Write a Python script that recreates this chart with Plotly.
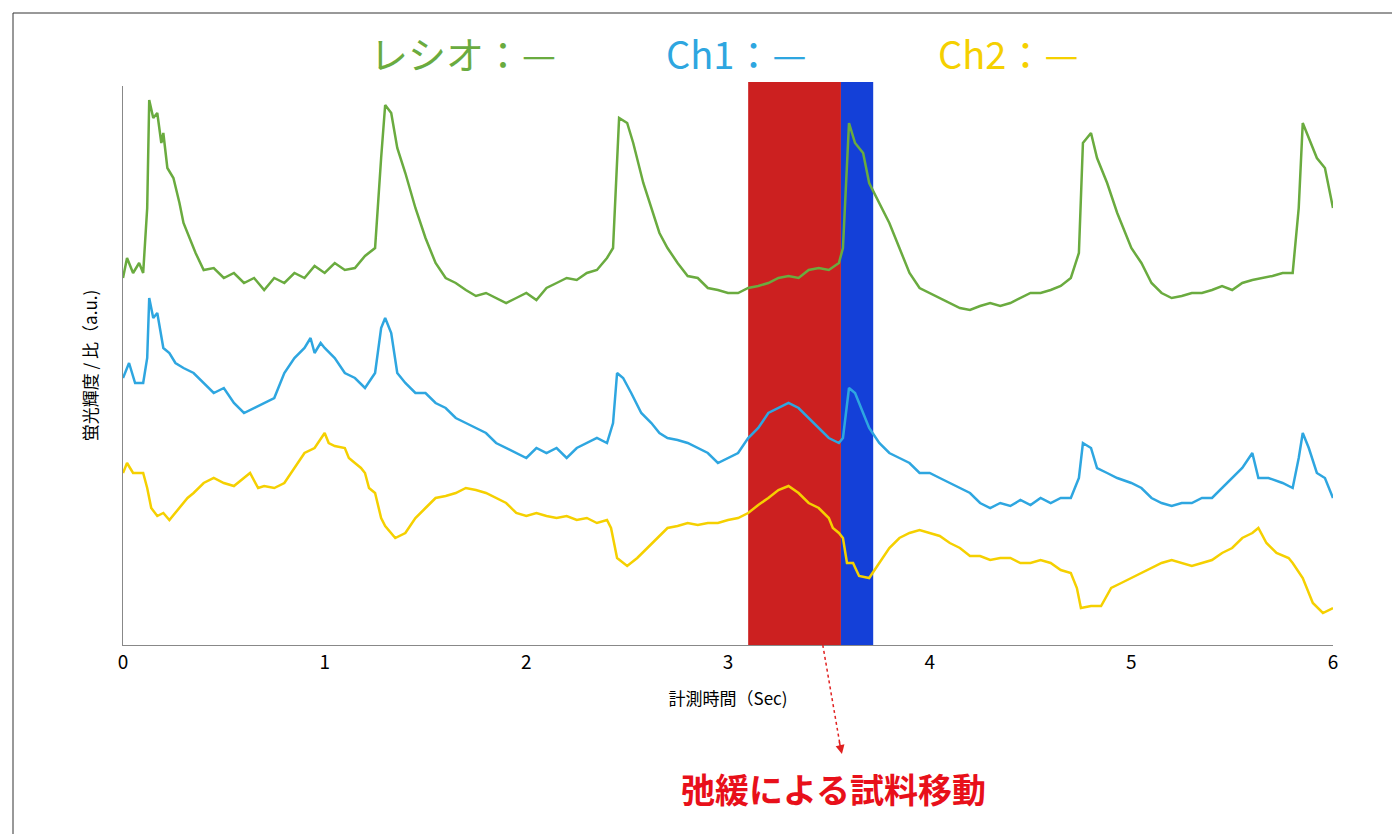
import plotly.graph_objects as go

# readings taken as pixel heights from the picture (baseline at 637 px); converted to signal below
t_ratio = [0,0.02,0.05,0.08,0.1,0.12,0.13,0.15,0.17,0.19,0.2,0.22,0.25,0.28,0.3,0.33,0.36,0.4,0.45,0.5,0.55,0.6,0.65,0.7,0.75,0.8,0.85,0.9,0.95,1.0,1.05,1.1,1.15,1.2,1.25,1.28,1.3,1.33,1.36,1.4,1.45,1.5,1.55,1.6,1.65,1.7,1.75,1.8,1.85,1.9,1.95,2.0,2.05,2.1,2.15,2.2,2.25,2.3,2.35,2.4,2.43,2.45,2.46,2.5,2.53,2.58,2.62,2.66,2.7,2.75,2.8,2.85,2.9,2.95,3.0,3.05,3.1,3.15,3.2,3.25,3.3,3.35,3.4,3.45,3.5,3.55,3.57,3.6,3.63,3.67,3.7,3.75,3.8,3.85,3.9,3.95,4.0,4.05,4.1,4.15,4.2,4.25,4.3,4.35,4.4,4.45,4.5,4.55,4.6,4.65,4.7,4.74,4.76,4.8,4.83,4.88,4.93,5.0,5.05,5.1,5.15,5.2,5.25,5.3,5.35,5.4,5.45,5.5,5.55,5.6,5.65,5.7,5.75,5.8,5.83,5.85,5.88,5.92,5.96,6.0]
px_ratio = [270,250,265,255,265,200,92,110,105,135,125,160,170,195,215,230,245,262,260,270,265,275,270,282,270,275,265,270,258,265,255,262,260,248,240,150,97,105,140,165,200,230,255,270,275,282,288,285,290,295,290,285,292,280,275,270,272,265,262,250,240,150,110,115,135,175,200,225,240,255,268,270,280,282,285,285,280,278,275,270,268,270,262,260,262,255,240,115,135,145,175,195,215,240,265,280,285,290,295,300,302,298,295,298,295,290,285,285,282,278,270,245,135,125,150,175,205,240,255,275,285,290,288,285,285,282,278,282,275,272,270,268,265,265,200,115,130,150,160,200]

t_ch1 = [0,0.03,0.06,0.1,0.12,0.13,0.15,0.17,0.2,0.23,0.26,0.3,0.35,0.4,0.45,0.5,0.55,0.6,0.65,0.7,0.75,0.8,0.85,0.9,0.93,0.95,0.98,1.0,1.05,1.1,1.15,1.2,1.25,1.28,1.3,1.33,1.36,1.4,1.45,1.5,1.55,1.6,1.65,1.7,1.75,1.8,1.85,1.9,1.95,2.0,2.05,2.1,2.15,2.2,2.25,2.3,2.35,2.4,2.43,2.45,2.48,2.52,2.57,2.62,2.66,2.7,2.75,2.8,2.85,2.9,2.95,3.0,3.05,3.1,3.15,3.2,3.25,3.3,3.35,3.4,3.45,3.5,3.55,3.57,3.6,3.63,3.67,3.7,3.75,3.8,3.85,3.9,3.95,4.0,4.05,4.1,4.15,4.2,4.25,4.3,4.35,4.4,4.45,4.5,4.55,4.6,4.65,4.7,4.74,4.76,4.8,4.83,4.88,4.93,5.0,5.05,5.1,5.15,5.2,5.25,5.3,5.35,5.4,5.45,5.5,5.55,5.6,5.63,5.68,5.75,5.8,5.83,5.85,5.88,5.92,5.96,6.0]
px_ch1 = [370,355,375,375,350,290,310,305,340,345,355,360,365,375,385,380,395,405,400,395,390,365,350,340,330,345,335,340,350,365,370,380,365,320,310,325,365,375,385,385,395,400,410,415,420,425,435,440,445,450,440,445,440,450,440,435,430,435,415,365,370,385,405,415,425,430,432,435,440,445,455,450,445,430,420,405,400,395,400,410,420,430,435,430,380,385,405,420,435,445,450,455,465,465,470,475,480,485,495,500,495,498,492,497,490,495,490,490,470,435,440,460,465,470,475,480,490,495,498,495,495,490,490,480,470,460,445,470,470,475,480,450,425,440,465,470,490]

t_ch2 = [0,0.02,0.05,0.1,0.12,0.14,0.17,0.2,0.23,0.28,0.32,0.35,0.4,0.45,0.5,0.55,0.6,0.63,0.67,0.7,0.75,0.8,0.85,0.9,0.95,1.0,1.02,1.05,1.1,1.12,1.15,1.18,1.2,1.22,1.25,1.28,1.3,1.35,1.4,1.45,1.5,1.55,1.6,1.65,1.7,1.75,1.8,1.85,1.9,1.95,2.0,2.05,2.1,2.15,2.2,2.25,2.3,2.35,2.4,2.42,2.45,2.5,2.55,2.6,2.65,2.7,2.75,2.8,2.85,2.9,2.95,3.0,3.05,3.1,3.15,3.2,3.25,3.3,3.35,3.4,3.45,3.5,3.52,3.55,3.57,3.59,3.62,3.65,3.7,3.75,3.8,3.85,3.9,3.95,4.0,4.05,4.1,4.15,4.2,4.25,4.3,4.35,4.4,4.45,4.5,4.55,4.6,4.65,4.7,4.73,4.75,4.8,4.85,4.9,4.95,5.0,5.05,5.1,5.15,5.2,5.25,5.3,5.35,5.4,5.45,5.5,5.55,5.6,5.63,5.67,5.72,5.78,5.8,5.85,5.9,5.95,6.0]
px_ch2 = [465,455,465,465,480,500,508,505,512,500,490,485,475,470,475,478,470,465,480,478,480,475,460,445,440,425,435,438,440,450,455,460,465,480,485,510,518,530,525,510,500,490,488,485,480,482,485,490,495,505,508,505,508,510,508,512,510,515,512,520,550,558,550,540,530,520,518,515,517,515,515,512,510,505,497,490,482,478,485,495,500,510,520,525,530,555,555,568,570,555,540,530,525,522,525,528,535,540,548,548,552,550,550,555,555,552,555,562,565,580,600,598,598,580,575,570,565,560,555,552,555,558,555,552,545,540,530,525,520,535,545,550,555,570,595,605,600]

x_ticks = [0, 1, 2, 3, 4, 5, 6]
BASE = 637
y_ratio = [BASE - p for p in px_ratio]
y_ch1 = [BASE - p for p in px_ch1]
y_ch2 = [BASE - p for p in px_ch2]

GREEN, BLUE, YELLOW = "#6aab3f", "#2ea6e0", "#f5d000"
FONT = "Noto Sans CJK JP"

fig = go.Figure()
fig.add_vrect(x0=3.1, x1=3.56, y0=0, y1=1.007, fillcolor="#cc2020", line_width=0, layer="below", opacity=1)
fig.add_vrect(x0=3.56, x1=3.72, y0=0, y1=1.007, fillcolor="#1440d8", line_width=0, layer="below", opacity=1)
for t, y, c in [(t_ratio, y_ratio, GREEN), (t_ch1, y_ch1, BLUE), (t_ch2, y_ch2, YELLOW)]:
    fig.add_trace(go.Scatter(x=t, y=y, mode="lines", line=dict(color=c, width=2.5), showlegend=False))

W, H = 1210, 559
def px(xp): return (xp - 115) / W
def py(yp): return (637 - yp) / H

fig.add_shape(type="rect", xref="paper", yref="paper", x0=px(5), x1=px(1393), y0=py(830), y1=py(5),
              line=dict(color="#333", width=1))
fig.add_shape(type="line", xref="x", yref="paper", x0=3.47, y0=0, x1=3.56, y1=py(742),
              line=dict(color="#e02020", width=1.5, dash="dot"))
fig.add_annotation(x=3.565, y=py(746), xref="x", yref="paper", ax=-3, ay=-14, showarrow=True,
                   arrowhead=2, arrowsize=1.2, arrowwidth=1.5, arrowcolor="#e02020", text="")
fig.add_annotation(x=px(825), y=py(780), xref="paper", yref="paper", showarrow=False,
                   xanchor="center", yanchor="middle",
                   text="<b>弛緩による試料移動</b>", font=dict(size=34, color="#e8101a", family=FONT))
for xc, txt, c in [(455, "レシオ：—", GREEN), (728, "Ch1：—", BLUE), (1000, "Ch2：—", YELLOW)]:
    fig.add_annotation(x=px(xc), y=py(45), xref="paper", yref="paper", showarrow=False,
                       xanchor="center", yanchor="middle",
                       text=txt, font=dict(size=38, color=c, family=FONT))

fig.update_layout(
    width=1400, height=834, paper_bgcolor="white", plot_bgcolor="white",
    margin=dict(l=115, r=75, t=78, b=197),
    font=dict(family=FONT, color="black"),
    xaxis=dict(range=[0, 6], tickvals=x_ticks, showgrid=False, zeroline=False, showline=True,
               linecolor="#888", linewidth=1, ticks="", tickfont=dict(size=19),
               title=dict(text="計測時間（Sec)", font=dict(size=17), standoff=20)),
    yaxis=dict(range=[0, 559], showgrid=False, zeroline=False, showline=True, linecolor="#888",
               linewidth=1, showticklabels=False, ticks="",
               title=dict(text="蛍光輝度 / 比（a.u.)", font=dict(size=17), standoff=20)),
)
fig.write_html("out.html")
